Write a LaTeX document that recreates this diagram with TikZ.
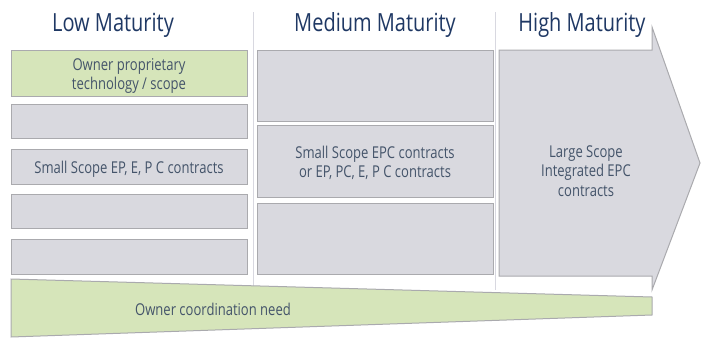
\documentclass[tikz,border=0pt]{standalone}
\usepackage{fontspec}
\setmainfont{Open Sans}
\definecolor{boxgrey}{RGB}{217,217,223}
\definecolor{edgegrey}{RGB}{170,170,174}
\definecolor{leafgreen}{RGB}{214,229,186}
\definecolor{navy}{RGB}{31,56,100}
\definecolor{slate}{RGB}{68,84,106}
\definecolor{divider}{RGB}{216,216,224}
% condensed text, set line by line
\newcommand{\squeeze}[1]{\scalebox{0.8}[1]{\begin{tabular}{@{}c@{}}#1\end{tabular}}}
\tikzset{
  heading/.style={text=navy, font=\fontsize{25}{29}\selectfont, inner sep=0pt, yshift=-2pt},
  cell/.style={draw=edgegrey, fill=boxgrey, line width=1pt, inner sep=0pt},
  greencell/.style={cell, fill=leafgreen},
  label/.style={text=slate, font=\fontsize{16.3}{19.5}\selectfont, inner sep=0pt, yshift=-3pt},
  rule/.style={draw=divider, line width=1pt}
}
\begin{document}
\begin{tikzpicture}[x=1pt, y=-1pt]
\useasboundingbox (0,0) rectangle (704,338);

% column dividers
\draw[rule] (253,12) -- (253,290);
\draw[rule] (495,12) -- (495,290);

% column headings
\node[heading] (hlow) at (113,24) {\squeeze{Low Maturity}};
\node[heading] (hmed) at (375,24) {\squeeze{Medium Maturity}};
\node[heading] (hhigh) at (582,24) {\squeeze{High Maturity}};

% low maturity column
\node[greencell, minimum width=236pt, minimum height=46pt] (low1) at (129,73) {};
\node[cell, minimum width=236pt, minimum height=34pt] (low2) at (129,121) {};
\node[cell, minimum width=236pt, minimum height=35pt] (low3) at (129,166.5) {};
\node[cell, minimum width=236pt, minimum height=34pt] (low4) at (129,211) {};
\node[cell, minimum width=236pt, minimum height=35pt] (low5) at (129,256.5) {};
\node[label] at (low1) {\squeeze{Owner proprietary\\technology / scope}};
\node[label] at (low3) {\squeeze{Small Scope EP, E, P C contracts}};

% medium maturity column
\node[cell, minimum width=236pt, minimum height=71pt] (med1) at (375,85.5) {};
\node[cell, minimum width=236pt, minimum height=72pt] (med2) at (375,161) {};
\node[cell, minimum width=236pt, minimum height=71pt] (med3) at (375,238.5) {};
\node[label] at (med2) {\squeeze{Small Scope EPC contracts\\or EP, PC, E, P C contracts}};

% high maturity arrow
\draw[draw=edgegrey, fill=boxgrey, line width=1pt, line join=miter]
  (499,276) -- (499,50) -- (652,50) -- (652,27) -- (700,163)
  -- (652,290) -- (652,276) -- cycle;
\node[label] (high) at (586,170) {\squeeze{Large Scope\\Integrated EPC\\contracts}};

% owner coordination wedge
\draw[draw=edgegrey, fill=leafgreen, line width=1pt]
  (11,279) -- (652,297) -- (652,315) -- (11,337) -- cycle;
\node[label] (coord) at (213,309) {\squeeze{Owner coordination need}};
\end{tikzpicture}
\end{document}
